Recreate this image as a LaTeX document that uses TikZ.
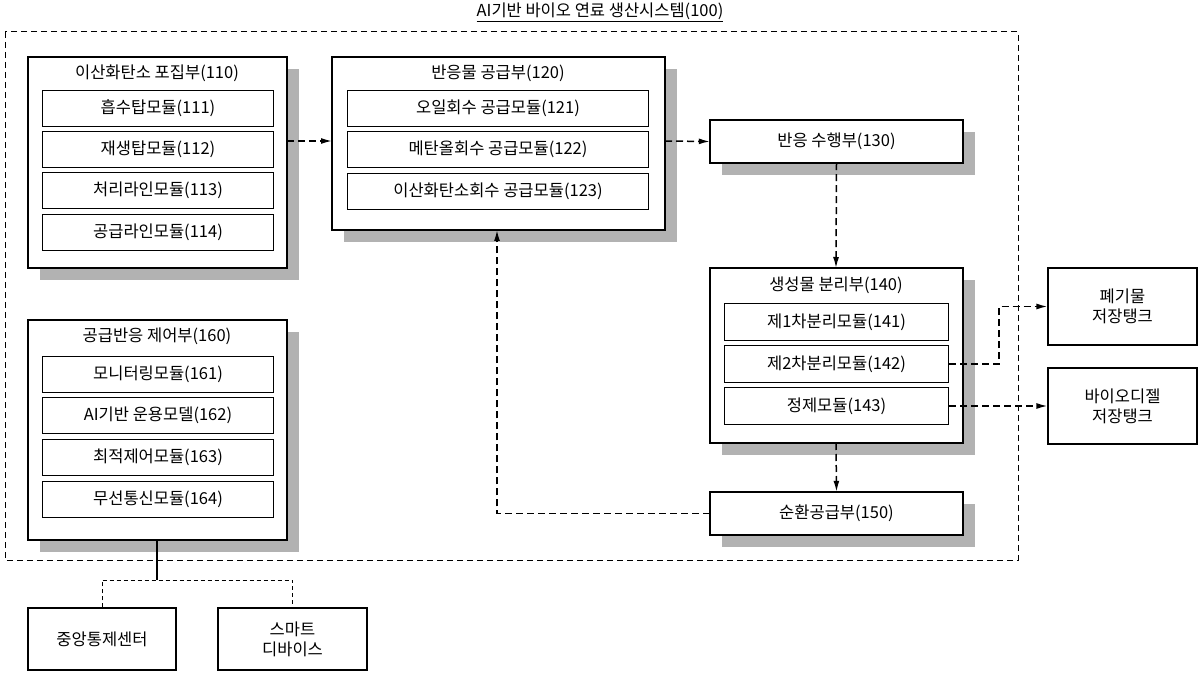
\documentclass[tikz,border=0pt]{standalone}
\usepackage{fontspec}
\setmainfont{Noto Sans CJK KR}
\usetikzlibrary{arrows.meta}
\begin{document}
\begin{tikzpicture}[x=1pt,y=-1pt,
  big/.style={draw,line width=2.2pt,fill=white},
  sub/.style={draw,line width=1pt,fill=white},
  dsh/.style={line width=1.5pt,dash pattern=on 7pt off 4pt},
  arr/.style={dsh,-{Latex[length=11pt,width=6pt]}},
  lab/.style={font=\fontsize{16.5}{20}\selectfont}]
\useasboundingbox (0,0) rectangle (1200,679);
\draw[line width=1pt,dash pattern=on 6pt off 4pt] (5,32) rectangle (1018,560);
\node[lab] (title) at (600,12) {\underline{AI기반 바이오 연료 생산시스템(100)}};
% shadows
\foreach \a/\b/\c/\d in {28/57/287/268, 332/57/665/230, 710/120/963/163, 710/268/963/443, 710/492/963/535, 28/320/287/540}
  \fill[black!30] (\a+12,\b+12) rectangle (\c+12,\d+12);
% big boxes
\draw[big] (28,57) rectangle (287,268);
\node[lab] (t110) at (157,73) {이산화탄소 포집부(110)};
\draw[big] (332,57) rectangle (665,230);
\node[lab] (t120) at (498,73) {반응물 공급부(120)};
\draw[big] (710,120) rectangle (963,163);
\node[lab,minimum width=253pt,minimum height=43pt] (n130) at (836.5,141.5) {반응 수행부(130)};
\draw[big] (710,268) rectangle (963,443);
\node[lab] (t140) at (836,285) {생성물 분리부(140)};
\draw[big] (710,492) rectangle (963,535);
\node[lab,minimum width=253pt,minimum height=43pt] (n150) at (836.5,513.5) {순환공급부(150)};
\draw[big] (28,320) rectangle (287,540);
\node[lab] (t160) at (157,336) {공급반응 제어부(160)};
% submodules
\foreach \y/\t/\n in {90/흡수탑모듈(111)/a1, 131/재생탑모듈(112)/a2, 172/처리라인모듈(113)/a3, 214/공급라인모듈(114)/a4}
  \node[sub,lab,minimum width=231pt,minimum height=36pt,anchor=north west] (\n) at (42,\y) {\t};
\foreach \y/\t/\n in {90/오일회수 공급모듈(121)/b1, 131/메탄올회수 공급모듈(122)/b2, 173/이산화탄소회수 공급모듈(123)/b3}
  \node[sub,lab,minimum width=301pt,minimum height=36pt,anchor=north west] (\n) at (347,\y) {\t};
\foreach \y/\t/\n in {303/제1차분리모듈(141)/c1, 345/제2차분리모듈(142)/c2, 387/정제모듈(143)/c3}
  \node[sub,lab,minimum width=224pt,minimum height=37pt,anchor=north west] (\n) at (724,\y) {\t};
\foreach \y/\t/\n in {356/모니터링모듈(161)/d1, 397/AI기반 운용모델(162)/d2, 439/최적제어모듈(163)/d3, 481/무선통신모듈(164)/d4}
  \node[sub,lab,minimum width=231pt,minimum height=36pt,anchor=north west] (\n) at (42,\y) {\t};
% outside boxes
\node[sub,lab,line width=1.2pt,minimum width=149pt,minimum height=77pt,align=center] (waste) at (1122.5,306.5) {폐기물\\저장탱크};
\node[sub,lab,line width=1.2pt,minimum width=149pt,minimum height=76pt,align=center] (bio) at (1122.5,406) {바이오디젤\\저장탱크};
\node[sub,lab,line width=1.2pt,minimum width=148pt,minimum height=62pt] (cen) at (102,639) {중앙통제센터};
\node[sub,lab,line width=1.2pt,minimum width=149pt,minimum height=62pt,align=center] (smart) at (292.5,639) {스마트\\디바이스};
% coordinates
\coordinate (p110) at (287,141);
\coordinate (p120l) at (332,141);
\coordinate (p120r) at (665,141);
\coordinate (p120b) at (497,230);
\coordinate (p140t) at (836,268);
\coordinate (p140b) at (836,443);
\coordinate (p160) at (157,540);
\coordinate (j) at (157,580);
% connectors
\draw[arr] (p110) -- (p120l);
\draw[arr] (p120r) -- (n130.west);
\draw[arr] (n130.south) -- (p140t);
\draw[arr] (p140b) -- (n150.north);
\draw[arr] (n150.west) -| (p120b);
\draw[arr] (c2.east) -- (999,364) |- (waste.west);
\draw[arr] (c3.east) -- (bio.west);
\draw[line width=1.2pt] (p160) -- (j);
\draw[line width=1pt,dash pattern=on 4pt off 3pt] (cen.north) |- (j) -| (smart.north);
\end{tikzpicture}
\end{document}
